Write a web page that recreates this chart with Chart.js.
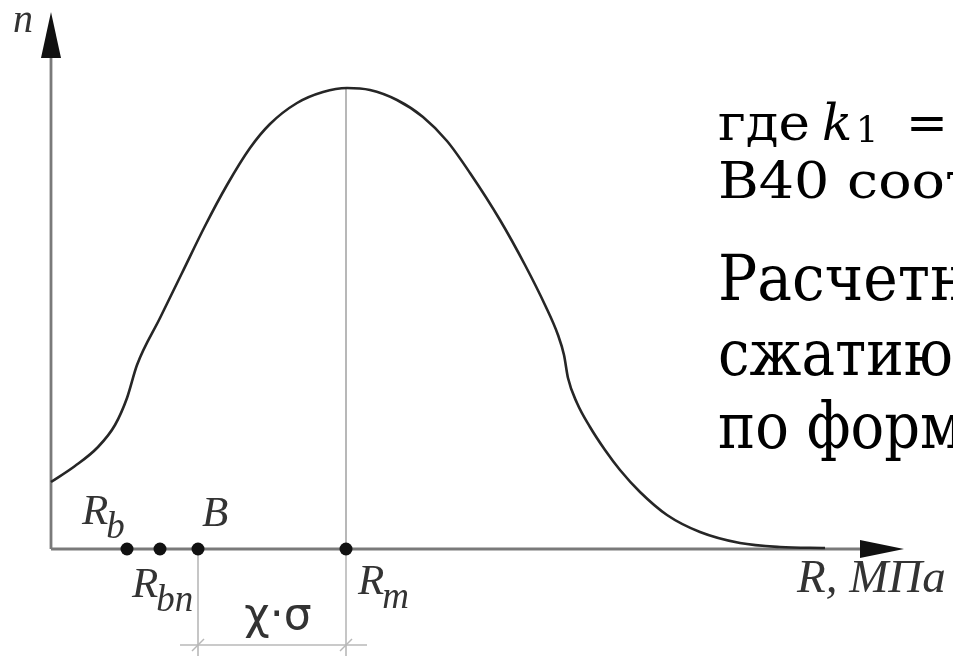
<!DOCTYPE html>
<html lang="ru">
<head>
<meta charset="utf-8">
<script src="https://cdn.jsdelivr.net/npm/chart.js@4/dist/chart.umd.min.js"></script>
<style>
    html, body { margin: 0; padding: 0; background: #fff; }
    body { width: 953px; height: 656px; overflow: hidden; position: relative; }
    #chart { position: absolute; left: 0; top: 0; }
    .txt { position: absolute; white-space: nowrap; font-family: "DejaVu Serif", serif; color: #000;
           line-height: 1.164; transform-origin: 0 0; }
    .small { font-size: 50px; }
    .big { font-size: 64px; }
</style>
</head>
<body>
<canvas id="chart" width="953" height="656"></canvas>
<div class="txt small fit" style="left:718px; top:93.6px" data-prefix="где" data-w="92">где</div>
<div class="txt small" style="left:822px; top:93.6px"><i>k</i></div>
<div class="txt" style="left:856px; top:110px; font-size:35px">1</div>
<div class="txt small" style="left:906px; top:93.6px">=</div>
<div class="txt small fit" style="left:718px; top:151.6px" data-prefix="В40 соо" data-w="227">В40 соответственно</div>
<div class="txt big fit" style="left:718px; top:240.6px" data-prefix="Расчет" data-w="212">Расчетное</div>
<div class="txt big fit" style="left:718px; top:315.6px" data-prefix="сжатию" data-w="235">сжатию</div>
<div class="txt big fit" style="left:718px; top:388.6px" data-prefix="по фор" data-w="202">по формуле</div>
<script>
// distribution curve n(R), arbitrary units (schematic)
const curveR = [0, 2.4, 4.7, 6.4, 7.6, 8.6, 10.9, 13.1, 15.4, 17.6, 19.9, 21.9, 24.6, 27.2, 29.6, 31.9, 34.6, 37.2, 39.6,
    41.9, 44.9, 47.4, 49.4, 50.7, 51.3, 51.7, 52.6, 53.9, 55.4, 56.9, 58.9, 61.6, 64.9, 68.9, 72.9, 77.4];
const curveN = [6.7, 8.3, 10.2, 12.4, 15.1, 18.4, 23.1, 27.6, 32.3, 36.4, 40.1, 42.5, 44.6, 45.7, 46.1, 45.9, 44.9, 43.2, 40.8,
    37.6, 32.9, 28.4, 24.4, 21.4, 19.4, 17.1, 14.6, 12.2, 9.9, 7.9, 5.7, 3.4, 1.7, 0.6, 0.2, 0.1];

// marked strengths on the R axis: R_b, R_bn, B, R_m
const markR = [7.6, 10.9, 14.7, 29.5];

const peakN = 46.1;
const axisMaxR = 85.3;
const axisMaxN = 53.7;

const GRAY = '#7a7a7a';
const LIGHT = '#b8b8b8';
const INK = '#262626';

const seg = (x1, y1, x2, y2) => [{ x: x1, y: y1 }, { x: x2, y: y2 }];
const bR = markR[2], mR = markR[3];

const datasets = [
    {   // points on axis
        type: 'scatter',
        data: markR.map(r => ({ x: r, y: 0 })),
        pointRadius: 6.5,
        pointBackgroundColor: '#111',
        pointBorderWidth: 0
    },
    {   // curve
        data: curveR.map((r, i) => ({ x: r, y: curveN[i] })),
        borderColor: INK,
        borderWidth: 2.6,
        cubicInterpolationMode: 'monotone',
        pointRadius: 0
    },
    { data: seg(0, 0, axisMaxR - 4.4, 0), borderColor: GRAY, borderWidth: 2.8, pointRadius: 0 },
    { data: seg(0, 0, 0, axisMaxN - 4.6), borderColor: GRAY, borderWidth: 2.8, pointRadius: 0 },
    { data: seg(mR, 0, mR, peakN), borderColor: LIGHT, borderWidth: 2, pointRadius: 0 },
    { data: seg(bR, 0, bR, -11), borderColor: LIGHT, borderWidth: 1.6, pointRadius: 0 },
    { data: seg(mR, 0, mR, -11), borderColor: LIGHT, borderWidth: 1.6, pointRadius: 0 },
    { data: seg(bR - 1.8, -9.6, mR + 2.1, -9.6), borderColor: LIGHT, borderWidth: 1.6, pointRadius: 0 }
];
datasets.forEach(d => { d.clip = false; });

function italicLabel(ctx, main, sub, x, y, size) {
    ctx.font = 'italic ' + size + 'px "Liberation Serif"';
    ctx.fillText(main, x, y);
    const w = ctx.measureText(main).width;
    if (sub) {
        ctx.font = 'italic ' + Math.round(size * 0.85) + 'px "Liberation Serif"';
        ctx.fillText(sub, x + w - 2, y + 14);
    }
}

const decor = {
    id: 'decor',
    afterDraw(chart) {
        const { ctx, scales: { x, y } } = chart;
        const x0 = x.getPixelForValue(0), y0 = y.getPixelForValue(0);
        ctx.save();
        ctx.fillStyle = '#111';
        // y arrow
        const yt = y.getPixelForValue(axisMaxN), yb = y.getPixelForValue(axisMaxN - 4.6);
        ctx.beginPath();
        ctx.moveTo(x0, yt); ctx.lineTo(x0 + 10, yb); ctx.lineTo(x0 - 10, yb); ctx.closePath();
        ctx.fill();
        // x arrow
        const xt = x.getPixelForValue(axisMaxR), xb = x.getPixelForValue(axisMaxR - 4.4);
        ctx.beginPath();
        ctx.moveTo(xt, y0); ctx.lineTo(xb, y0 - 9); ctx.lineTo(xb, y0 + 9); ctx.closePath();
        ctx.fill();
        // dimension ticks
        ctx.strokeStyle = LIGHT;
        ctx.lineWidth = 1.4;
        const yd = y.getPixelForValue(-9.6);
        [bR, mR].forEach(r => {
            const px = x.getPixelForValue(r);
            ctx.beginPath();
            ctx.moveTo(px - 6, yd + 6); ctx.lineTo(px + 6, yd - 6);
            ctx.stroke();
        });
        // labels
        ctx.fillStyle = '#333';
        ctx.textBaseline = 'alphabetic';
        italicLabel(ctx, 'n', '', x0 - 38, 32, 40);
        italicLabel(ctx, 'R', 'b', x.getPixelForValue(markR[0]) - 45, y0 - 25, 43);
        italicLabel(ctx, 'B', '', x.getPixelForValue(markR[2]) + 4, y0 - 23, 43);
        italicLabel(ctx, 'R', 'bn', x.getPixelForValue(markR[1]) - 28, y0 + 48, 43);
        italicLabel(ctx, 'R', 'm', x.getPixelForValue(markR[3]) + 12, y0 + 45, 43);
        ctx.font = '44px "DejaVu Sans"';
        ctx.textAlign = 'center';
        ctx.fillText('\u03c7\u00b7\u03c3', x.getPixelForValue((bR + mR) / 2) + 6, yd - 16);
        ctx.textAlign = 'left';
        ctx.font = 'italic 47px "Liberation Serif"';
        ctx.fillText('R, МПа', 797, y0 + 43);
        ctx.restore();
    }
};

new Chart(document.getElementById('chart'), {
    type: 'line',
    data: { datasets },
    options: {
        responsive: false,
        animation: false,
        layout: { padding: { left: 51, right: 49, top: 12, bottom: 107 } },
        scales: {
            x: { type: 'linear', min: 0, max: axisMaxR, display: false },
            y: { type: 'linear', min: 0, max: axisMaxN, display: false }
        },
        plugins: { legend: { display: false }, tooltip: { enabled: false } }
    },
    plugins: [decor]
});

// stretch the text lines so their widths follow the reference typeface
const meas = document.createElement('canvas').getContext('2d');
document.querySelectorAll('.fit').forEach(el => {
    const cs = getComputedStyle(el);
    meas.font = cs.fontSize + ' ' + cs.fontFamily;
    const w = meas.measureText(el.dataset.prefix).width;
    el.style.transform = 'scaleX(' + (parseFloat(el.dataset.w) / w).toFixed(3) + ')';
});
</script>
</body>
</html>
